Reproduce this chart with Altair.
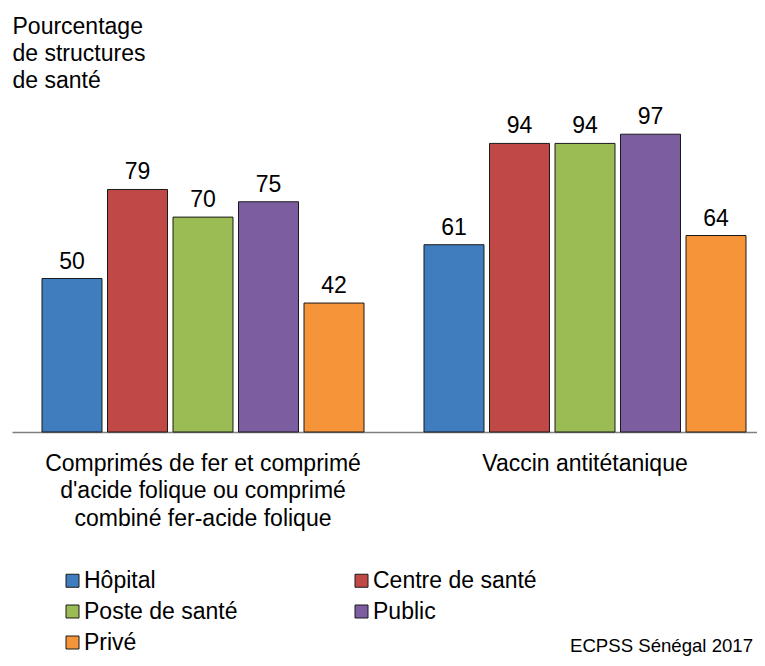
import altair as alt
import pandas as pd

groups = [
    "Comprimés de fer et comprimé|d'acide folique ou comprimé|combiné fer-acide folique",
    "Vaccin antitétanique",
]
types = ["Hôpital", "Centre de santé", "Poste de santé", "Public", "Privé"]
colors = ["#3F7DBE", "#C04846", "#9BBB54", "#7C5EA0", "#F59438"]
values_fer = [50, 79, 70, 75, 42]
values_vat = [61, 94, 94, 97, 64]
y_title = ["Pourcentage", "de structures", "de santé"]
footnote = "ECPSS Sénégal 2017"

rows = []
for g, vals in zip(groups, [values_fer, values_vat]):
    for t, v in zip(types, vals):
        rows.append({"groupe": g, "type": t, "valeur": v})
df = pd.DataFrame(rows)

FONT = "Liberation Sans"

x_enc = alt.X(
    "groupe:N",
    sort=groups,
    scale=alt.Scale(range=[0, 764], paddingInner=0, paddingOuter=0),
    axis=alt.Axis(
        title=None,
        ticks=False,
        grid=False,
        domainColor="#808080",
        domainWidth=1.5,
        labelAngle=0,
        labelFontSize=23,
        labelFont=FONT,
        labelColor="#000000",
        labelLineHeight=27.5,
        labelPadding=20,
        labelBaseline="top",
        labelLimit=0,
        labelExpr="split(datum.label, '|')",
    ),
)
xoff = alt.XOffset(
    "type:N",
    sort=types,
    scale=alt.Scale(domain=types, paddingInner=0.084, paddingOuter=0.458),
)
y_enc = alt.Y(
    "valeur:Q",
    scale=alt.Scale(domain=[0, 100], nice=False, zero=True),
    axis=alt.Axis(
        title=y_title,
        labels=False,
        ticks=False,
        domain=False,
        grid=False,
        titleAngle=0,
        titleAlign="left",
        titleBaseline="top",
        titleX=0,
        titleY=-110,
        titleFontSize=23,
        titleFont=FONT,
        titleFontWeight="normal",
        titleLineHeight=27,
        titleColor="#000000",
    ),
)

base = alt.Chart(df)

bars = base.mark_bar(stroke="#1a1a1a", strokeWidth=1).encode(
    x=x_enc,
    xOffset=xoff,
    y=y_enc,
    color=alt.Color(
        "type:N",
        sort=types,
        scale=alt.Scale(domain=types, range=colors),
        legend=alt.Legend(
            title=None,
            orient="none",
            direction="horizontal",
            legendX=49,
            legendY=444,
            columns=2,
            columnPadding=112,
            rowPadding=7,
            padding=0,
            symbolType="square",
            symbolSize=169,
            symbolStrokeColor="#1a1a1a",
            symbolStrokeWidth=1,
            symbolOpacity=1,
            labelFontSize=23,
            labelFont=FONT,
            labelColor="#000000",
            labelOffset=0,
            labelLimit=0,
        ),
    ),
)

labels = base.mark_text(
    baseline="alphabetic", dy=-10, fontSize=23, font=FONT, color="#000000"
).encode(
    x=alt.X("groupe:N", sort=groups),
    xOffset=alt.XOffset("type:N", sort=types),
    y="valeur:Q",
    text="valeur:Q",
)

note = alt.Chart(pd.DataFrame({"t": [footnote]})).mark_text(
    align="right", baseline="alphabetic", fontSize=18.6, font=FONT,
    color="#000000"
).encode(x=alt.value(741), y=alt.value(527), text="t:N")

chart = (
    alt.layer(bars, labels, note)
    .properties(
        width=745,
        height=307,
        background="#ffffff",
        padding={"left": 4, "top": 117, "right": 0, "bottom": 226},
        autosize=alt.AutoSizeParams(type="none"),
    )
    .configure_view(strokeWidth=0, stroke="transparent")
)

chart.save("out.html", embed_options={"renderer": "svg", "actions": False})
